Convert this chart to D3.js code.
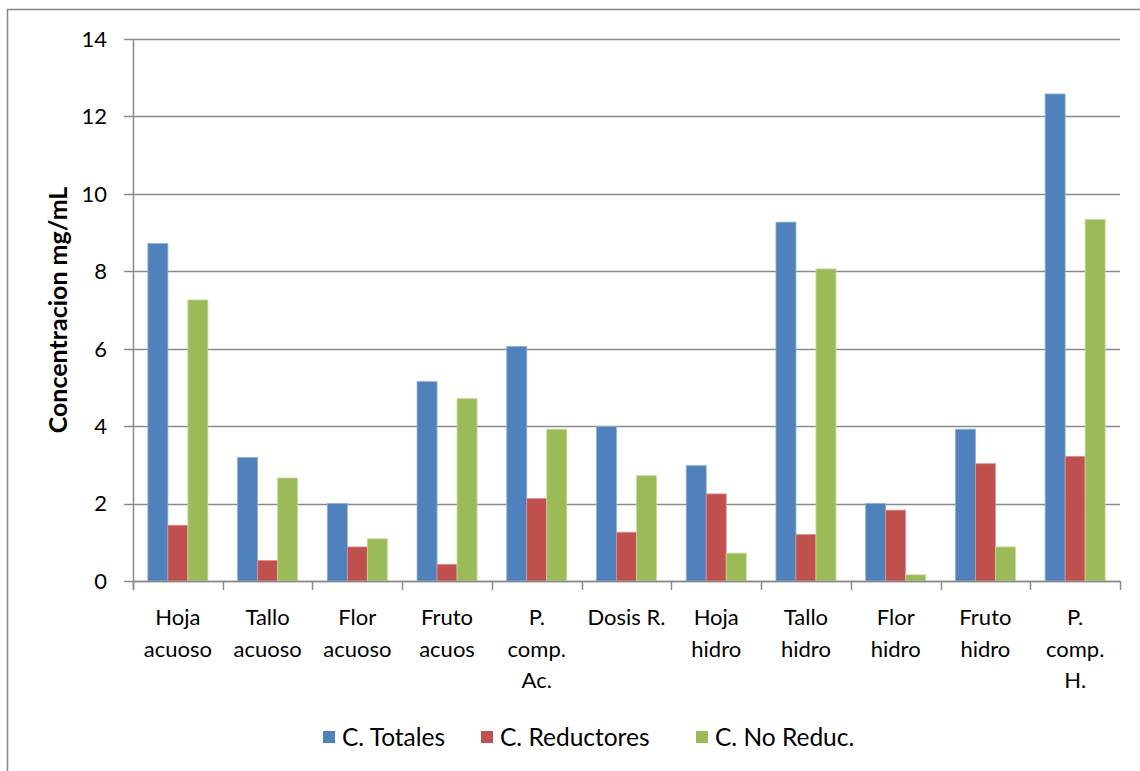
<!DOCTYPE html>
<html><head><meta charset="utf-8">
<script src="https://cdn.jsdelivr.net/npm/d3@7"></script>
<style>body{margin:0;background:#fff}svg{display:block;font-family:Lato,"Open Sans",sans-serif}</style>
</head><body><svg id="c" width="1140" height="771"></svg>
<script>
const categories = ["Hoja\nacuoso","Tallo\nacuoso","Flor\nacuoso","Fruto\nacuos","P.\ncomp.\nAc.","Dosis R.","Hoja\nhidro","Tallo\nhidro","Flor\nhidro","Fruto\nhidro","P.\ncomp.\nH."];
const seriesNames = ["C. Totales","C. Reductores","C. No Reduc."];
const totales    = [8.72,3.19,2.00,5.15,6.06,3.99,2.98,9.27,2.00,3.92,12.58];
const reductores = [1.44,0.53,0.88,0.43,2.13,1.26,2.25,1.20,1.83,3.03,3.22];
const noReduc    = [7.26,2.66,1.09,4.71,3.92,2.72,0.72,8.06,0.16,0.88,9.34];
const yTicks = [0,2,4,6,8,10,12,14];
const colors = ["#4F81BD","#C0504D","#9BBB59"];
const edge = ["#8FB0DA","#DA9391","#C4D99B"];

const series = [totales, reductores, noReduc];
const svg = d3.select("#c");
const L = 133, R = 1120, T = 39, B = 581;

svg.append("rect").attr("x",7.5).attr("y",9.5).attr("width",1200).attr("height",900)
  .attr("fill","none").attr("stroke","#878787").attr("stroke-width",1.5);

const x = d3.scaleBand().domain(categories).range([L,R]);
const y = d3.scaleLinear().domain([0,14]).range([B,T]);

// gridlines
svg.append("g").selectAll("line").data(yTicks).join("line")
  .attr("x1",124).attr("x2",R).attr("y1",d=>Math.round(y(d))+0.5).attr("y2",d=>Math.round(y(d))+0.5)
  .attr("stroke","#8a8a8a").attr("stroke-width",1.5);

// y tick labels
svg.append("g").selectAll("text").data(yTicks).join("text")
  .attr("x",107).attr("y",d=>y(d)).attr("dy","0.36em").attr("text-anchor","end")
  .attr("font-size",22).attr("fill","#000").text(d=>d);

// bars
const bw = x.bandwidth();
const barW = 20;
const off = (bw - 3*barW)/2;
series.forEach((s,si)=>{
  svg.append("g").selectAll("rect").data(s).join("rect")
    .attr("x",(d,i)=>x(categories[i])+off+si*barW)
    .attr("y",d=>y(d)).attr("width",barW).attr("height",d=>B-y(d))
    .attr("fill",colors[si]).attr("stroke",edge[si]).attr("stroke-width",0.8);
});

// axes lines
svg.append("line").attr("x1",L+0.5).attr("x2",L+0.5).attr("y1",T).attr("y2",B+9)
  .attr("stroke","#8a8a8a").attr("stroke-width",1.5);
svg.append("line").attr("x1",L).attr("x2",R).attr("y1",B+0.5).attr("y2",B+0.5)
  .attr("stroke","#8a8a8a").attr("stroke-width",1.5);
// x ticks
const bounds = categories.map(c=>x(c)).concat([R]);
svg.append("g").selectAll("line").data(bounds).join("line")
  .attr("x1",d=>Math.round(d)+0.5).attr("x2",d=>Math.round(d)+0.5).attr("y1",B).attr("y2",B+9)
  .attr("stroke","#8a8a8a").attr("stroke-width",1.5);

// category labels
const cl = svg.append("g").selectAll("text").data(categories).join("text")
  .attr("text-anchor","middle").attr("font-size",22).attr("fill","#000");
cl.each(function(c){
  const t = d3.select(this);
  c.split("\n").forEach((ln,k)=>{
    t.append("tspan").attr("x",x(c)+bw/2).attr("y",625+k*31.5).text(ln);
  });
});

// y axis title
svg.append("text").attr("transform",`translate(67,${(T+B)/2}) rotate(-90)`)
  .attr("text-anchor","middle").attr("font-size",25).attr("font-weight","bold")
  .text("Concentracion mg/mL");

// legend
const legX = [323,481,696];
const lg = svg.append("g");
seriesNames.forEach((n,i)=>{
  lg.append("rect").attr("x",legX[i]).attr("y",731).attr("width",12).attr("height",12).attr("fill",colors[i]);
  lg.append("text").attr("x",legX[i]+19).attr("y",737).attr("dy","0.36em").attr("font-size",24.5).text(n);
});
</script></body></html>
